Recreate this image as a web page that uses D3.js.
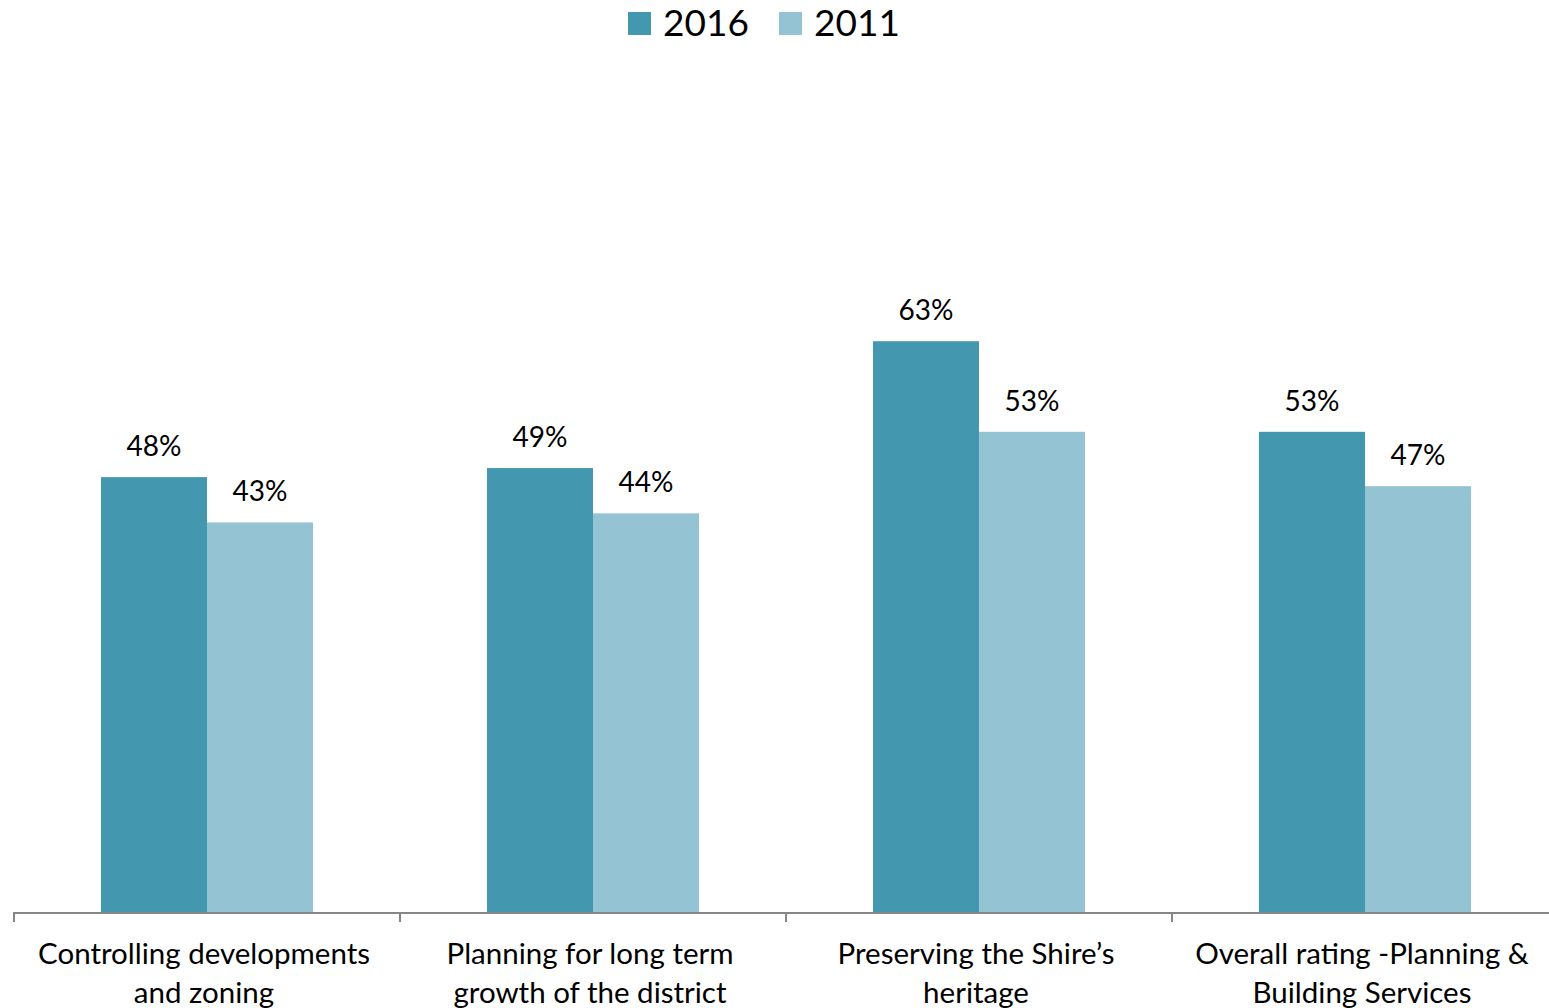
<!DOCTYPE html>
<html>
<head>
<meta charset="utf-8">
<script src="https://cdn.jsdelivr.net/npm/d3@7"></script>
<style>
  body { margin: 0; background: #fff; }
  text { font-family: Lato, "Open Sans", sans-serif; fill: #000; }
</style>
</head>
<body>
<div id="chart"></div>
<script>
/* data */
var categories = [
  ["Controlling developments", "and zoning"],
  ["Planning for long term", "growth of the district"],
  ["Preserving the Shire\u2019s", "heritage"],
  ["Overall rating -Planning &", "Building Services"]
];
var seriesNames = ["2016", "2011"];
var values2016 = [48, 49, 63, 53];
var values2011 = [43, 44, 53, 47];
var colors = ["#4398b0", "#94c3d4"];

var W = 1549, H = 1008;
var svg = d3.select("#chart").append("svg")
    .attr("width", W).attr("height", H);

var baseY = 912;
var x = d3.scaleBand().domain(d3.range(categories.length)).range([14, 1558]).padding(0);
var xs = d3.scaleBand().domain(seriesNames).range([0, x.bandwidth()])
    .paddingInner(0).paddingOuter(0.82);
var y = d3.scaleLinear().domain([0, 100]).range([baseY, 6]);

var rows = [];
categories.forEach(function(c, i) {
  rows.push({cat: i, s: "2016", v: values2016[i], col: colors[0]});
  rows.push({cat: i, s: "2011", v: values2011[i], col: colors[1]});
});

svg.selectAll(".bar")
   .data(rows)
   .enter()
   .append("rect")
   .attr("class", "bar")
   .attr("x", function(d) { return x(d.cat) + xs(d.s); })
   .attr("y", function(d) { return y(d.v); })
   .attr("width", xs.bandwidth())
   .attr("height", function(d) { return baseY - y(d.v); })
   .style("fill", function(d) { return d.col; });

svg.selectAll(".val")
   .data(rows)
   .enter()
   .append("text")
   .attr("class", "val")
   .attr("x", function(d) { return x(d.cat) + xs(d.s) + xs.bandwidth() / 2; })
   .attr("y", function(d) { return y(d.v) - 21; })
   .attr("text-anchor", "middle")
   .style("font-size", "28px")
   .text(function(d) { return d.v + "%"; });

/* x axis: line plus ticks at band edges */
var axis = svg.append("g").attr("class", "axis");
axis.append("line")
    .attr("x1", 14).attr("x2", W)
    .attr("y1", baseY + 1).attr("y2", baseY + 1)
    .style("stroke", "#868686").style("stroke-width", 2);
axis.selectAll(".tick")
    .data(d3.range(categories.length + 1))
    .enter()
    .append("line")
    .attr("x1", function(i) { return x.range()[0] + i * x.step(); })
    .attr("x2", function(i) { return x.range()[0] + i * x.step(); })
    .attr("y1", baseY).attr("y2", baseY + 10)
    .style("stroke", "#868686").style("stroke-width", 2);

var labels = axis.selectAll(".cat")
    .data(categories)
    .enter()
    .append("text")
    .attr("class", "cat")
    .attr("text-anchor", "middle")
    .style("font-size", "29.5px")
    .attr("transform", function(d, i) { return "translate(" + (x(i) + x.bandwidth() / 2 - 3) + ",0)"; });
labels.selectAll("tspan")
    .data(function(d) { return d; })
    .enter()
    .append("tspan")
    .attr("x", 0)
    .attr("y", function(d, j) { return 964 + j * 39; })
    .text(function(d) { return d; });

/* legend */
var legendX = [628, 779];
var leg = svg.selectAll(".legend")
    .data(seriesNames)
    .enter()
    .append("g")
    .attr("class", "legend")
    .attr("transform", function(d, i) { return "translate(" + legendX[i] + ",12)"; });
leg.append("rect")
   .attr("width", 23).attr("height", 23)
   .style("fill", function(d, i) { return colors[i]; });
leg.append("text")
   .attr("x", 35)
   .attr("y", 24)
   .style("font-size", "37px")
   .text(function(d) { return d; });
</script>
</body>
</html>
